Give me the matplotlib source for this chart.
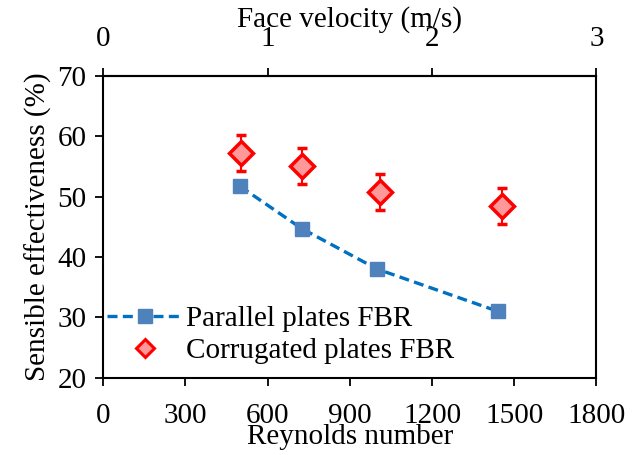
import numpy as np
import matplotlib
matplotlib.use('Agg')
import matplotlib.pyplot as plt
from matplotlib.lines import Line2D

# data
re_parallel = [500, 725, 1000, 1440]
eff_parallel = [51.7, 44.7, 38.0, 31.0]

re_corrugated = [505, 727, 1010, 1455]
eff_corrugated = [57.2, 55.1, 50.8, 48.4]
err_corrugated = [3.0, 3.0, 3.0, 3.0]

x_ticks = [0, 300, 600, 900, 1200, 1500, 1800]
y_ticks = [20, 30, 40, 50, 60, 70]
top_ticks = [0, 1, 2, 3]

plt.rcParams['font.family'] = ['Liberation Serif', 'DejaVu Serif']
plt.rcParams['font.size'] = 21

fig = plt.figure(figsize=(6.4, 4.55), dpi=100)
ax = fig.add_axes([0.161, 0.170, 0.771, 0.663])

ax.plot(re_parallel, eff_parallel, linestyle=(0, (3.0, 1.6)), color='#0070C0', linewidth=2.4,
        marker='s', markersize=10.5, markerfacecolor='#4F81BD', markeredgecolor='#4F81BD',
        zorder=3)
ax.errorbar(re_corrugated, eff_corrugated, yerr=err_corrugated, fmt='D', color='#FF0000',
            markersize=12, markerfacecolor='#FF9999', markeredgecolor='#FF0000', markeredgewidth=2.5,
            ecolor='#FF0000', elinewidth=1.5, capsize=3.6, capthick=1.5, zorder=4)

ax.set_xlim(0, 1800)
ax.set_ylim(20, 70)
ax.set_xticks(x_ticks)
ax.set_yticks(y_ticks)
ax.set_xlabel('Reynolds number', labelpad=-3)
ax.set_ylabel('Sensible effectiveness (%)', labelpad=4)
ax.tick_params(axis='x', direction='out', length=6, width=1.3, pad=12)
ax.tick_params(axis='y', direction='out', length=6, width=1.3, pad=6)
for s in ax.spines.values():
    s.set_linewidth(1.5)

top = ax.secondary_xaxis('top', functions=(lambda x: x / 600.0, lambda v: v * 600.0))
top.set_xticks(top_ticks)
top.set_xlabel('Face velocity (m/s)', labelpad=0)
top.tick_params(direction='out', length=6, width=1.3, pad=11)
top.spines['top'].set_linewidth(1.5)

handles = [
    Line2D([], [], linestyle=(0, (3.0, 1.6)), color='#0070C0', linewidth=2.4,
           marker='s', markersize=10.5, markerfacecolor='#4F81BD', markeredgecolor='#4F81BD'),
    Line2D([], [], linestyle='none', marker='D', markersize=9, markerfacecolor='#FF9999',
           markeredgecolor='#FF0000', markeredgewidth=2.2),
]
ax.legend(handles, ['Parallel plates FBR', 'Corrugated plates FBR'], loc='lower left',
          bbox_to_anchor=(-0.033, -0.023), frameon=False, handlelength=2.6,
          handletextpad=0.1, labelspacing=0.2, borderaxespad=0.3)

fig.savefig('out.png', dpi=100)
